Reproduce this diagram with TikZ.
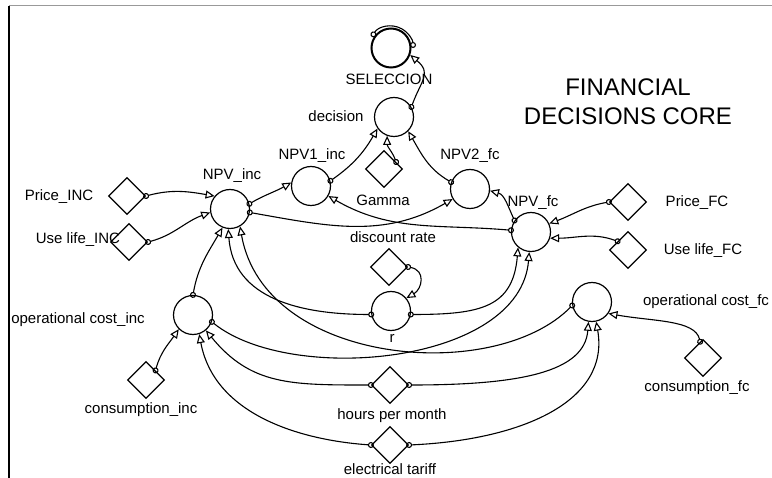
\documentclass[tikz,border=0pt]{standalone}
\usepackage{fontspec}
\setmainfont{Liberation Sans}
\usetikzlibrary{arrows.meta,shapes.geometric}

\begin{document}
\begin{tikzpicture}[x=1pt,y=1pt,
  aux/.style={draw,circle,line width=1.2pt,minimum size=39pt,inner sep=0pt},
  const/.style={draw,diamond,line width=1.2pt,minimum width=37pt,minimum height=37pt,inner sep=0pt},
  lbl/.style={inner sep=0pt,font=\fontsize{15}{17}\selectfont},
  link/.style={line width=1.1pt,shorten <=-3pt,{Circle[open,length=6pt,width=6pt]}-{Triangle[open,length=9pt,width=8pt]}},
  selfloop/.style={line width=1.1pt,{Circle[open,length=6pt,width=6pt]}-{Circle[open,length=6pt,width=6pt]}}]
\useasboundingbox (0,0) rectangle (772,-478);
\draw[gray!80,line width=1pt] (9,-6) -- (772,-6);
\draw[line width=2pt] (9,-6) -- (9,-478);
\node[align=center,inner sep=0pt,font=\fontsize{24}{29}\selectfont] (title) at (628,-102) {FINANCIAL\\DECISIONS CORE};
\node[aux,line width=2pt] (sel) at (391,-48) {};
\node[lbl] (sel-l) at (389,-79) {SELECCION};
\node[aux] (dec) at (394,-117) {};
\node[lbl] (dec-l) at (336,-116) {decision};
\node[const] (gam) at (384,-169) {};
\node[lbl] (gam-l) at (383,-200) {Gamma};
\node[aux] (npv1) at (311,-186) {};
\node[lbl] (npv1-l) at (312,-156) {NPV1\_inc};
\node[aux] (npv2) at (470,-189) {};
\node[lbl] (npv2-l) at (470,-156) {NPV2\_fc};
\node[aux] (npvi) at (230,-209) {};
\node[lbl] (npvi-l) at (232,-176) {NPV\_inc};
\node[aux] (npvf) at (531,-232) {};
\node[lbl] (npvf-l) at (533,-203) {NPV\_fc};
\node[const] (pinc) at (127,-196) {};
\node[lbl] (pinc-l) at (59,-197) {Price\_INC};
\node[const] (uinc) at (129,-242) {};
\node[lbl] (uinc-l) at (78,-240) {Use life\_INC};
\node[const] (pfc) at (628,-202) {};
\node[lbl] (pfc-l) at (697,-203) {Price\_FC};
\node[const] (ufc) at (628,-250) {};
\node[lbl] (ufc-l) at (703,-251) {Use life\_FC};
\node[const] (disc) at (389,-267) {};
\node[lbl] (disc-l) at (393,-237) {discount rate};
\node[aux] (r) at (391,-311) {};
\node[lbl] (r-l) at (392,-338) {r};
\node[aux] (oci) at (193,-315) {};
\node[lbl] (oci-l) at (78,-320) {operational cost\_inc};
\node[const] (ci) at (146,-380) {};
\node[lbl] (ci-l) at (141,-410) {consumption\_inc};
\node[aux] (ocf) at (592,-302) {};
\node[lbl] (ocf-l) at (706,-302) {operational cost\_fc};
\node[const] (cf) at (703,-358) {};
\node[lbl] (cf-l) at (697,-388) {consumption\_fc};
\node[const] (hpm) at (390,-385) {};
\node[lbl] (hpm-l) at (392,-416) {hours per month};
\node[const] (et) at (390,-445) {};
\node[lbl] (et-l) at (390,-469) {electrical tariff};
\draw[selfloop] ([shift={(150:22)}]sel.center) arc[start angle=150,end angle=0,radius=22];
\draw[link] (dec.30) to[out=70,in=-40,looseness=1.4] (sel.-20);
\draw[link] (npv1.15) to[out=35,in=240] (dec.215);
\draw[link] (gam.30) to[out=110,in=-90] (dec.250);
\draw[link] (npv2.160) to[out=150,in=-60] (dec.-45);
\draw[link] (pinc.east) to[out=15,in=170] (npvi.140);
\draw[link] (uinc.east) to[out=15,in=200] (npvi.190);
\draw[link] (npvi.15) to[out=30,in=210] (npv1.170);
\draw[link] (npvi.-10) to[out=-10,in=210] (npv2.210);
\draw[link] (npvf.175) to[out=175,in=-30] (npv1.-30);
\draw[link] (npvf.145) to[out=115,in=-15] (npv2.-5);
\draw[link] (pfc.west) to[out=190,in=20] (npvf.25);
\draw[link] (ufc.140) to[out=160,in=0] (npvf.-18);
\draw[link] (disc.east) to[out=-10,in=30,looseness=1.5] (r.40);
\draw[link] (r.190) .. controls +(-70,0) and +(5,-70) .. (npvi.-95);
\draw[link] (r.-10) .. controls +(70,0) and +(-5,-60) .. (npvf.-130);
\draw[link] (oci.north) to[out=80,in=-120] (npvi.-112);
\draw[link] (oci.-20) .. controls (290,-385) and (520,-365) .. (npvf.-95);
\draw[link] (ocf.190) .. controls (494,-385) and (264,-365) .. (npvi.-60);
\draw[link] (hpm.west) .. controls +(-80,0) and +(45,-55) .. (oci.-50);
\draw[link] (et.west) .. controls +(-72,5) and +(15,-80) .. (oci.-72);
\draw[link] (hpm.east) .. controls +(112,0) and +(-4,-50) .. (ocf.-100);
\draw[link] (et.east) .. controls +(112,5) and +(14,-80) .. (ocf.-78);
\draw[link] (ci.45) to[out=75,in=-125] (oci.-135);
\draw[link] (cf.100) .. controls +(-5,22) and +(45,-8) .. (ocf.-35);
\end{tikzpicture}
\end{document}
